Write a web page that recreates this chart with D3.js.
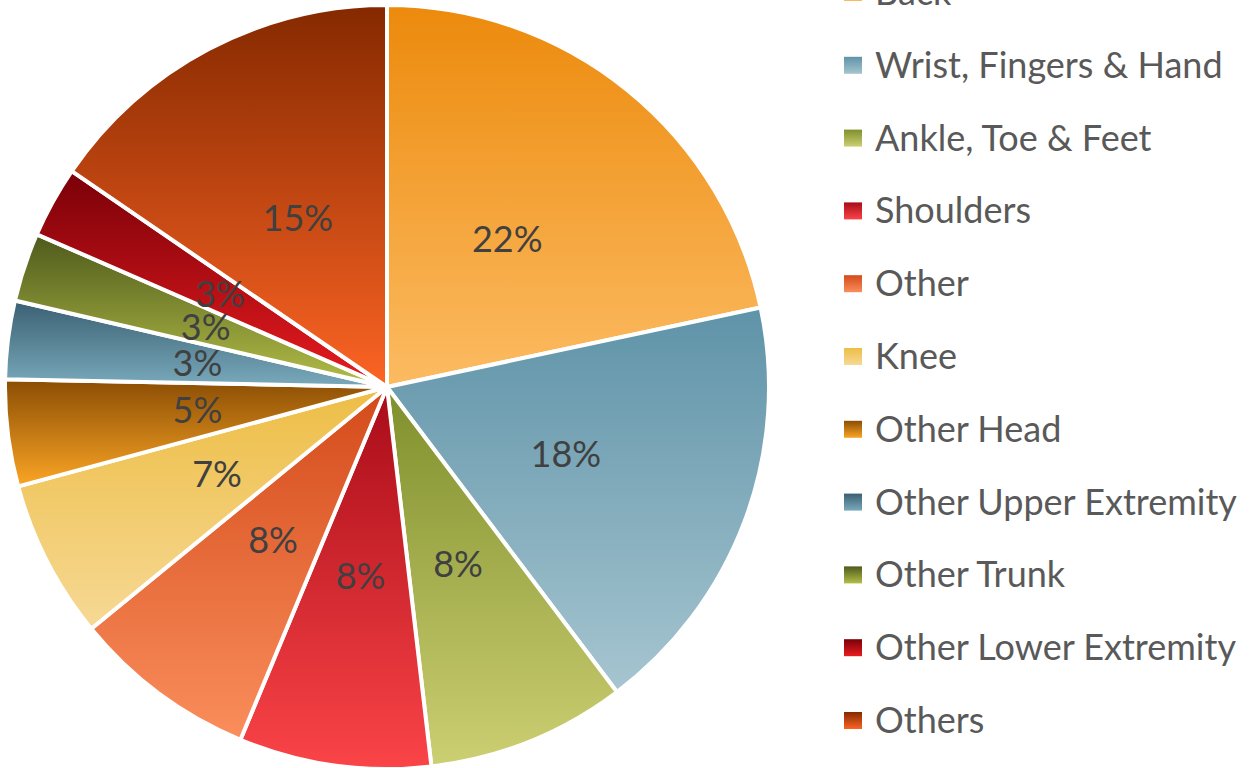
<!DOCTYPE html>
<html>
<head>
<meta charset="utf-8">
<script src="https://cdn.jsdelivr.net/npm/d3@7"></script>
<style>
  html, body { margin: 0; padding: 0; background: #fff; }
  svg { display: block; }
</style>
</head>
<body>
<svg id="chart" width="1250" height="768"></svg>
<script>
// data (share of injuries, %)
var categories = ["Back", "Wrist, Fingers & Hand", "Ankle, Toe & Feet", "Shoulders", "Other",
    "Knee", "Other Head", "Other Upper Extremity", "Other Trunk", "Other Lower Extremity", "Others"];
var values = [21.6, 18.0, 8.4, 8.1, 7.8, 6.7, 4.5, 3.3, 2.9, 3.0, 15.4];
var labels = ["22%", "18%", "8%", "8%", "8%", "7%", "5%", "3%", "3%", "3%", "15%"];

// gradient stops per slice: [top, bottom]
var topColors = ["#ec8a0c", "#5f93a8", "#7f8f2c", "#a80c18", "#d44a1a", "#edbd45", "#8a4d04", "#3a6072", "#4e5a1c", "#7a0008", "#852900"];
var bottomColors = ["#fcbb62", "#a6c5d0", "#cccf72", "#fa4448", "#fa8e5c", "#f6d995", "#fba524", "#79aabc", "#b4be48", "#e81c20", "#fc6424"];

var cx = 387, cy = 387, radius = 382;

var svg = d3.select("#chart");
var defs = svg.append("defs");

categories.forEach(function (c, i) {
    var grad = defs.append("linearGradient")
        .attr("id", "grad" + i)
        .attr("x1", 0).attr("y1", 0).attr("x2", 0).attr("y2", 1);
    grad.append("stop").attr("offset", "0%").attr("stop-color", topColors[i]);
    grad.append("stop").attr("offset", "100%").attr("stop-color", bottomColors[i]);
});

var pie = d3.pie().sort(null).value(function (d) { return d; });
var arcs = pie(values);
var arc = d3.arc().innerRadius(0).outerRadius(radius);
var labelArc = d3.arc().innerRadius(radius * 0.5).outerRadius(radius * 0.5);

var g = svg.append("g").attr("transform", "translate(" + cx + "," + cy + ")");

g.selectAll("path.slice")
    .data(arcs)
    .join("path")
    .attr("class", "slice")
    .attr("d", arc)
    .attr("fill", function (d, i) { return "url(#grad" + i + ")"; })
    .attr("stroke", "#fff")
    .attr("stroke-width", 4)
    .attr("stroke-linejoin", "round");

g.selectAll("text.pct")
    .data(arcs)
    .join("text")
    .attr("class", "pct")
    .attr("transform", function (d) { return "translate(" + labelArc.centroid(d) + ")"; })
    .attr("text-anchor", "middle")
    .attr("dy", "0.36em")
    .style("font-family", "Lato, 'Open Sans', sans-serif")
    .style("font-size", "36px")
    .style("fill", "#404040")
    .text(function (d, i) { return labels[i]; });

// legend
var legend = svg.append("g").attr("transform", "translate(844,-8)");
var rowH = 72.8;
var item = legend.selectAll("g.item")
    .data(categories)
    .join("g")
    .attr("class", "item")
    .attr("transform", function (d, i) { return "translate(0," + (i * rowH) + ")"; });

var legGrad = categories.map(function (c, i) {
    var lg = defs.append("linearGradient")
        .attr("id", "lgrad" + i)
        .attr("x1", 0).attr("y1", 0).attr("x2", 0).attr("y2", 1);
    lg.append("stop").attr("offset", "0%").attr("stop-color", topColors[i]);
    lg.append("stop").attr("offset", "100%").attr("stop-color", bottomColors[i]);
    return "url(#lgrad" + i + ")";
});

item.append("rect")
    .attr("x", 0).attr("y", -8)
    .attr("width", 18).attr("height", 17)
    .attr("fill", function (d, i) { return legGrad[i]; });

item.append("text")
    .attr("x", 31)
    .attr("y", 0)
    .attr("dy", "0.36em")
    .style("font-family", "Lato, 'Open Sans', sans-serif")
    .style("font-size", "36px")
    .style("fill", "#595959")
    .text(function (d) { return d; });
</script>
</body>
</html>
